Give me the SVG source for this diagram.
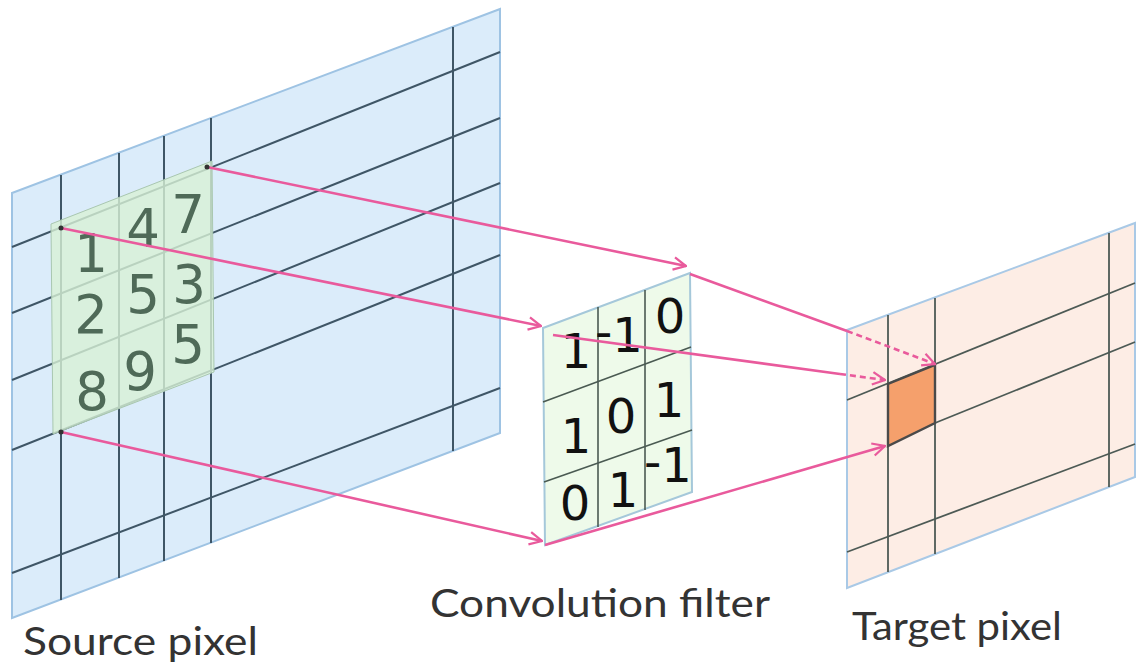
<svg xmlns="http://www.w3.org/2000/svg" width="1137" height="671" viewBox="0 0 1137 671">
<style>
.grid{stroke:#3f5666;stroke-width:2;fill:none}
.fgrid{stroke:#4a5a52;stroke-width:1.6;fill:none}
.tgrid{stroke:#4d5a55;stroke-width:1.8;fill:none}
.sd{font-family:"DejaVu Sans",sans-serif;font-size:53px;fill:#4f6a58;text-anchor:middle}
.fd{font-family:"DejaVu Sans",sans-serif;font-size:48px;fill:#111}
.lbl{font-family:"Lato","Open Sans",sans-serif;font-size:38px;fill:#333}
.pk{stroke:#e95a9c;stroke-width:2.6;fill:none}
.dash{stroke-dasharray:6 4}
</style>
<defs>
<marker id="ah" viewBox="0 0 12 12" refX="11" refY="6" markerWidth="15" markerHeight="15" markerUnits="userSpaceOnUse" orient="auto">
<path d="M1,1 L11,6 L1,11" fill="none" stroke="#e95a9c" stroke-width="1.8"/>
</marker>
</defs>
<rect width="1137" height="671" fill="#fff"/>
<g id="source-plane">
<polygon points="12,193 500,9 500,433 12,618" fill="#dbecfa" stroke="#9ec3e3" stroke-width="2"/>
<line class="grid" x1="61" y1="175" x2="61" y2="600"/>
<line class="grid" x1="119" y1="153" x2="119" y2="578"/>
<line class="grid" x1="164" y1="136" x2="164" y2="561"/>
<line class="grid" x1="211" y1="118" x2="211" y2="543"/>
<line class="grid" x1="453" y1="27" x2="453" y2="451"/>
<line class="grid" x1="12" y1="247" x2="500" y2="52"/>
<line class="grid" x1="12" y1="313" x2="500" y2="118"/>
<line class="grid" x1="12" y1="380" x2="500" y2="183"/>
<line class="grid" x1="12" y1="450" x2="500" y2="255"/>
<line class="grid" x1="12" y1="573" x2="500" y2="388"/>
<polygon points="51,224 212,161 214,372 53,434" fill="#d8f1d6" fill-opacity="0.8" stroke="#a9c7b0" stroke-width="1"/>
<text class="sd" x="91" y="272">1</text>
<text class="sd" x="143" y="247">4</text>
<text class="sd" x="188" y="233">7</text>
<text class="sd" x="91" y="333">2</text>
<text class="sd" x="143" y="313">5</text>
<text class="sd" x="189" y="303">3</text>
<text class="sd" x="92" y="410">8</text>
<text class="sd" x="140" y="390">9</text>
<text class="sd" x="188" y="363">5</text>
</g>
<g id="filter">
<polygon points="543,328 690,273 692,492 545,545" fill="#eefaea" stroke="#a5c8da" stroke-width="2"/>
<line class="fgrid" x1="598" y1="307" x2="598" y2="527"/>
<line class="fgrid" x1="645" y1="290" x2="645" y2="510"/>
<line class="fgrid" x1="543" y1="402" x2="691" y2="347"/>
<line class="fgrid" x1="544" y1="482" x2="692" y2="430"/>
<text class="fd" x="576" y="368" text-anchor="middle">1</text>
<text class="fd" x="595" y="352"><tspan dy="-4">-</tspan><tspan dy="4">1</tspan></text>
<text class="fd" x="670" y="333" text-anchor="middle">0</text>
<text class="fd" x="576" y="453" text-anchor="middle">1</text>
<text class="fd" x="621" y="433" text-anchor="middle">0</text>
<text class="fd" x="669" y="417" text-anchor="middle">1</text>
<text class="fd" x="575" y="520" text-anchor="middle">0</text>
<text class="fd" x="623" y="507" text-anchor="middle">1</text>
<text class="fd" x="644" y="482"><tspan dy="-4">-</tspan><tspan dy="4">1</tspan></text>
</g>
<g id="target-plane">
<polygon points="847,330 1135,223 1135,477 847,588" fill="#fdede5" stroke="#a9c9e6" stroke-width="2"/>
<line class="tgrid" x1="888" y1="315" x2="888" y2="572"/>
<line class="tgrid" x1="935" y1="298" x2="935" y2="554"/>
<line class="tgrid" x1="1109" y1="233" x2="1109" y2="487"/>
<line class="tgrid" x1="847" y1="400" x2="1135" y2="283"/>
<line class="tgrid" x1="935" y1="423" x2="1135" y2="342"/>
<line class="tgrid" x1="847" y1="552" x2="1135" y2="444"/>
<polygon id="target-pixel" points="888,384 935,365 935,423 888,446" fill="#f5a06c" stroke="#4a4a4a" stroke-width="2.4"/>
</g>
<g id="connectors">
<line class="pk" x1="207" y1="167" x2="686" y2="266" marker-end="url(#ah)"/>
<line class="pk" x1="690" y1="274" x2="847" y2="331"/>
<line class="pk dash" x1="847" y1="331" x2="935" y2="364" marker-end="url(#ah)"/>
<line class="pk" x1="61" y1="228" x2="541" y2="326" marker-end="url(#ah)"/>
<line class="pk" x1="553" y1="335" x2="840" y2="374"/>
<line class="pk dash" x1="840" y1="374" x2="885" y2="380" marker-end="url(#ah)"/>
<line class="pk" x1="61" y1="432" x2="542" y2="541" marker-end="url(#ah)"/>
<line class="pk" x1="545" y1="545" x2="885" y2="446" marker-end="url(#ah)"/>
<circle cx="61" cy="228" r="2.5" fill="#333"/>
<circle cx="207" cy="167" r="2.5" fill="#333"/>
<circle cx="61" cy="432" r="2.5" fill="#333"/>
</g>
<g id="labels">
<text class="lbl" x="23" y="655" textLength="235" lengthAdjust="spacingAndGlyphs">Source pixel</text>
<text class="lbl" x="430" y="617" textLength="340" lengthAdjust="spacingAndGlyphs">Convolution filter</text>
<text class="lbl" x="852" y="640" textLength="210" lengthAdjust="spacingAndGlyphs">Target pixel</text>
</g>
</svg>
